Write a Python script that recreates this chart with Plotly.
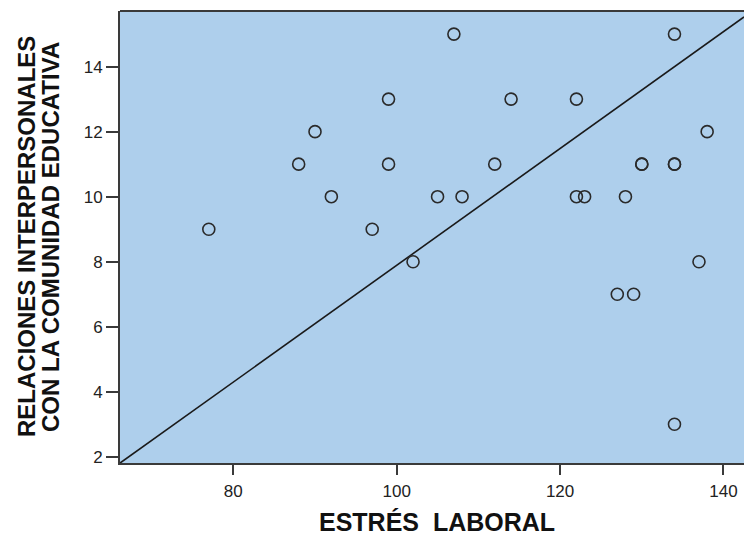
import plotly.graph_objects as go

# Data
estres_laboral = [77, 88, 90, 92, 97, 99, 99, 102, 105, 107, 108, 112, 114, 122, 122,
                  123, 127, 128, 129, 130, 130, 134, 134, 134, 134, 137, 138]
relaciones = [9, 11, 12, 10, 9, 13, 11, 8, 10, 15, 10, 11, 13, 13, 10,
              10, 7, 10, 7, 11, 11, 15, 11, 11, 3, 8, 12]

x_ticks = [80, 100, 120, 140]
y_ticks = [2, 4, 6, 8, 10, 12, 14]

x_range = [66.13, 142.51]
y_range = [1.81, 15.71]

# reference line (intercept, slope) as drawn in the chart
line_intercept = -10.07
line_slope = 0.1796

x_title = "ESTRÉS  LABORAL"
y_title_lines = ["RELACIONES INTERPERSONALES", "CON LA COMUNIDAD EDUCATIVA"]

FONT = "Liberation Sans, Arial, sans-serif"
AXIS_COL = "#3a3a3a"

line_x = x_range
line_y = [line_intercept + line_slope * v for v in line_x]

fig = go.Figure()
fig.add_trace(go.Scatter(
    x=line_x, y=line_y, mode="lines",
    line=dict(color="#1a1a1a", width=1.6),
    hoverinfo="skip", showlegend=False, cliponaxis=True,
))
fig.add_trace(go.Scatter(
    x=estres_laboral, y=relaciones, mode="markers",
    marker=dict(symbol="circle-open", size=12, color="#2a2a2a",
                line=dict(width=1.6, color="#2a2a2a")),
    showlegend=False,
))

fig.update_layout(
    width=744, height=536,
    margin=dict(l=120, r=0, t=11, b=73),
    paper_bgcolor="white",
    plot_bgcolor="#AECFEC",
    font=dict(family=FONT, color="#222222"),
    xaxis=dict(
        range=x_range, tickvals=x_ticks, showgrid=False, zeroline=False,
        showline=True, linecolor=AXIS_COL, linewidth=2,
        ticks="outside", ticklen=10, tickwidth=2, tickcolor=AXIS_COL,
        tickfont=dict(size=17, color="#222222", family=FONT),
        ticklabelstandoff=2,
    ),
    yaxis=dict(
        range=y_range, tickvals=y_ticks, showgrid=False, zeroline=False,
        showline=True, linecolor=AXIS_COL, linewidth=2,
        ticks="outside", ticklen=12, tickwidth=2, tickcolor=AXIS_COL,
        tickfont=dict(size=17, color="#222222", family=FONT),
    ),
    shapes=[dict(type="line", xref="paper", yref="paper", x0=0, x1=1, y0=1, y1=1,
                 line=dict(color=AXIS_COL, width=2))],
    annotations=[
        dict(text=x_title, xref="paper", yref="paper", x=0.5075, y=-0.1305,
             xanchor="center", yanchor="middle", showarrow=False,
             font=dict(size=25, family=FONT, color="#111111", weight="bold")),
        dict(text=y_title_lines[0], xref="paper", yref="paper", x=-0.1506, y=0.5,
             xanchor="center", yanchor="middle", textangle=-90, showarrow=False,
             font=dict(size=24, family=FONT, color="#111111", weight="bold")),
        dict(text=y_title_lines[1], xref="paper", yref="paper", x=-0.1122, y=0.5,
             xanchor="center", yanchor="middle", textangle=-90, showarrow=False,
             font=dict(size=24, family=FONT, color="#111111", weight="bold")),
    ],
)

fig.write_html("out.html", config={"displayModeBar": False},
               post_script="document.body.style.margin='0px';document.body.style.overflow='hidden';")
